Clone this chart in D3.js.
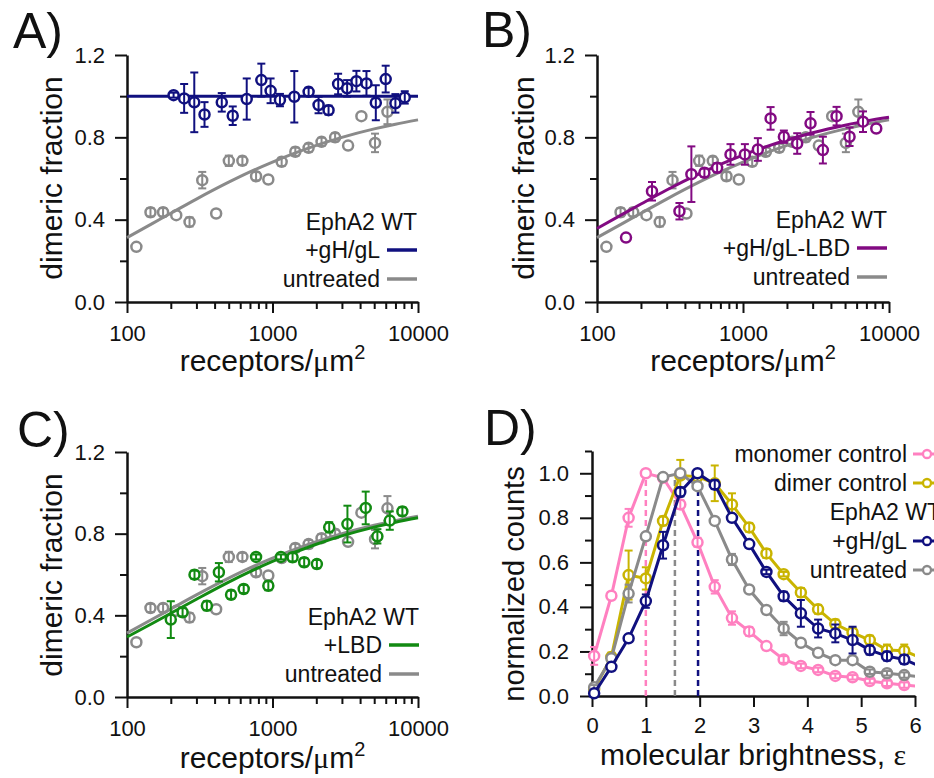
<!DOCTYPE html>
<html>
<head>
<meta charset="utf-8">
<script src="https://cdn.jsdelivr.net/npm/d3@7.9.0/dist/d3.min.js"></script>
<style>
  body { margin: 0; background: #fff; }
  text { font-family: "Liberation Sans", Arial, sans-serif; fill: #111; }
</style>
</head>
<body>
<svg id="fig" width="934" height="778"></svg>
<script>
// ---- panels A-C: dimeric fraction vs receptor density ----
const untreatedX = [116, 145, 177, 218, 269, 329, 410, 501, 621, 771, 936, 1156, 1435, 1771, 2173, 2693, 3308, 4083, 5066, 6166];
const untreatedY = [0.268, 0.436, 0.436, 0.422, 0.389, 0.592, 0.43, 0.686, 0.686, 0.611, 0.595, 0.681, 0.73, 0.749, 0.778, 0.80, 0.76, 0.903, 0.773, 0.924];
const untreatedErr = [0, 0.02, 0.02, 0, 0.022, 0.04, 0, 0.025, 0.02, 0.02, 0, 0.02, 0.02, 0.02, 0.02, 0.02, 0, 0, 0.045, 0.06];

const gHgLX = [209, 247, 290, 341, 448, 533, 665, 838, 970, 1125, 1412, 1771, 2073, 2428, 2825, 3258, 3774, 4424, 5129, 5997, 6994, 8110];
const gHgLY = [1.005, 0.989, 0.97, 0.911, 0.97, 0.905, 0.986, 1.078, 1.026, 0.981, 0.997, 1.021, 0.957, 0.932, 1.059, 1.038, 1.073, 1.062, 0.968, 1.083, 0.965, 0.994];
const gHgLErr = [0.012, 0.07, 0.145, 0.06, 0.045, 0.045, 0.1, 0.08, 0.06, 0.03, 0.125, 0.02, 0.04, 0.022, 0.05, 0.04, 0.05, 0.06, 0.085, 0.065, 0.045, 0.03];

const lbdGHgLX = [158, 238, 367, 443, 544, 665, 821, 1030, 1264, 1545, 1905, 2351, 2901, 3525, 4374, 5370, 6637, 8180];
const lbdGHgLY = [0.313, 0.538, 0.441, 0.621, 0.628, 0.652, 0.717, 0.717, 0.741, 0.892, 0.803, 0.77, 0.868, 0.738, 0.903, 0.803, 0.876, 0.843];
const lbdGHgLErr = [0, 0.045, 0.04, 0.135, 0.02, 0.022, 0.05, 0.05, 0.055, 0.055, 0.03, 0.05, 0.055, 0.065, 0.045, 0.045, 0.05, 0];

const lbdX = [200, 241, 291, 354, 428, 519, 634, 771, 936, 1143, 1374, 1651, 2018, 2453, 3273, 4371, 5260, 6397, 7810];
const lbdY = [0.379, 0.415, 0.599, 0.447, 0.611, 0.501, 0.529, 0.686, 0.545, 0.686, 0.684, 0.66, 0.651, 0.831, 0.847, 0.926, 0.787, 0.864, 0.909];
const lbdErr = [0.09, 0.02, 0.02, 0.022, 0.045, 0.02, 0.02, 0.012, 0.022, 0.012, 0.02, 0.02, 0.02, 0.025, 0.09, 0.08, 0.035, 0.045, 0.02];

// fitted curves
const fitX = [100, 150, 200, 300, 500, 700, 1000, 2000, 3000, 5000, 7000, 10000];
const fitUntreated = [0.313, 0.382, 0.431, 0.50, 0.582, 0.632, 0.68, 0.761, 0.80, 0.841, 0.864, 0.885];
const fitGHgL = [1, 1, 1, 1, 1, 1, 1, 1, 1, 1, 1, 1];
const fitLbdGHgL = [0.357, 0.427, 0.476, 0.544, 0.622, 0.669, 0.714, 0.787, 0.822, 0.859, 0.88, 0.898];
const fitLbd = [0.294, 0.361, 0.41, 0.479, 0.563, 0.614, 0.664, 0.748, 0.789, 0.832, 0.856, 0.878];

const fracTicks = [0, 0.4, 0.8, 1.2];
const fracMinor = [0.2, 0.6, 1.0];
const densTicks = [100, 1000, 10000];
const densMinor = [200, 300, 400, 500, 600, 700, 800, 900, 2000, 3000, 4000, 5000, 6000, 7000, 8000, 9000];

// ---- panel D: brightness distributions ----
const brightness = [0.04, 0.36, 0.68, 1.0, 1.32, 1.64, 1.96, 2.28, 2.6, 2.92, 3.24, 3.56, 3.88, 4.2, 4.52, 4.84, 5.16, 5.48, 5.8, 6.12];
const monomerCounts = [0.18, 0.45, 0.80, 1.00, 0.98, 0.86, 0.69, 0.49, 0.35, 0.29, 0.224, 0.164, 0.135, 0.117, 0.09, 0.084, 0.067, 0.057, 0.049, 0.043];
const monomerErr = [0.04, 0, 0.04, 0, 0, 0.02, 0.02, 0.03, 0.03, 0.02, 0, 0.015, 0.01, 0.01, 0.01, 0.01, 0.01, 0.012, 0.012, 0];
const dimerCounts = [0.03, 0.175, 0.543, 0.528, 0.786, 0.99, 0.985, 0.955, 0.86, 0.757, 0.64, 0.547, 0.465, 0.389, 0.323, 0.285, 0.251, 0.206, 0.203, 0.17];
const dimerErr = [0, 0.02, 0.11, 0.05, 0.02, 0.07, 0.02, 0.08, 0.05, 0.02, 0.02, 0.01, 0.02, 0.02, 0.02, 0.02, 0.02, 0.025, 0.028, 0];
const gHgLCounts = [0.012, 0.131, 0.259, 0.426, 0.677, 0.916, 1.0, 0.949, 0.80, 0.682, 0.557, 0.448, 0.371, 0.303, 0.281, 0.251, 0.206, 0.179, 0.164, 0.13];
const gHgLCountsErr = [0, 0, 0, 0.03, 0.06, 0.02, 0, 0.02, 0, 0, 0.01, 0.02, 0.06, 0.04, 0.04, 0.06, 0.02, 0.02, 0.02, 0];
const untreatedCounts = [0.039, 0.169, 0.46, 0.717, 0.983, 1.0, 0.942, 0.786, 0.613, 0.478, 0.386, 0.303, 0.239, 0.194, 0.161, 0.161, 0.109, 0.102, 0.094, 0.085];
const untreatedCountsErr = [0.01, 0, 0.04, 0, 0, 0, 0, 0, 0.025, 0, 0, 0.03, 0, 0, 0, 0, 0.01, 0.01, 0.012, 0];
const peakX = [1.0, 1.54, 1.97];
const peakTop = [1.0, 0.97, 1.0];

const countTicks = [0, 0.2, 0.4, 0.6, 0.8, 1.0];
const countMinor = [0.1, 0.3, 0.5, 0.7, 0.9, 1.1];
const brightTicks = [0, 1, 2, 3, 4, 5, 6];

const C = {
  navy: "#10107f", gray: "#8a8a8a", purple: "#820a82", green: "#128a12",
  pink: "#ff80c0", yellow: "#c9b400"
};

const svg = d3.select("#fig");

function styleAxis(g, major) {
  g.select(".domain").attr("stroke", "#111").attr("stroke-width", 2.5);
  g.selectAll(".tick line").attr("stroke", "#111").attr("stroke-width", 2);
  g.selectAll(".tick text").attr("font-size", 22).attr("fill", "#111")
    .attr("font-family", '"Liberation Sans", Arial, sans-serif');
  if (!major) g.select(".domain").remove();
}

function errorBars(g, pts, x, y, color) {
  const cap = 4;
  pts.forEach(p => {
    if (!p.e) return;
    const x0 = x(p.x), y1 = y(p.y - p.e), y2 = y(p.y + p.e);
    g.append("line").attr("x1", x0).attr("x2", x0).attr("y1", y1).attr("y2", y2)
      .attr("stroke", color).attr("stroke-width", 2);
    [y1, y2].forEach(yy => g.append("line").attr("x1", x0 - cap).attr("x2", x0 + cap)
      .attr("y1", yy).attr("y2", yy).attr("stroke", color).attr("stroke-width", 2));
  });
}

function points(g, xs, ys, es, x, y, color, r) {
  const pts = xs.map((v, i) => ({ x: v, y: ys[i], e: es[i] }));
  g.append("g").selectAll("circle").data(pts).enter().append("circle")
    .attr("cx", d => x(d.x)).attr("cy", d => y(d.y)).attr("r", r)
    .attr("fill", "#fff").attr("stroke", color).attr("stroke-width", 2.5);
  errorBars(g.append("g"), pts, x, y, color);
}

function fracPanel(o) {
  const g = svg.append("g");
  const x = d3.scaleLog().domain([100, 10000]).range(o.xr);
  const y = d3.scaleLinear().domain([0, 1.2]).range(o.yr);

  g.append("g").attr("transform", `translate(0,${o.yr[0]})`)
    .call(d3.axisBottom(x).tickValues(densMinor).tickSize(7).tickFormat(""))
    .call(a => styleAxis(a, false));
  g.append("g").attr("transform", `translate(0,${o.yr[0]})`)
    .call(d3.axisBottom(x).tickValues(densTicks).tickSize(11).tickSizeOuter(0).tickPadding(12).tickFormat(d3.format("d")))
    .call(a => styleAxis(a, true));
  g.append("g").attr("transform", `translate(${o.xr[0]},0)`)
    .call(d3.axisLeft(y).tickValues(fracMinor).tickSize(7).tickFormat(""))
    .call(a => styleAxis(a, false));
  g.append("g").attr("transform", `translate(${o.xr[0]},0)`)
    .call(d3.axisLeft(y).tickValues(fracTicks).tickSize(12).tickSizeOuter(0).tickPadding(10).tickFormat(d3.format(".1f")))
    .call(a => styleAxis(a, true));

  const line = d3.line().x((d, i) => x(fitX[i])).y(d => y(d)).curve(d3.curveMonotoneX);

  points(g, untreatedX, untreatedY, untreatedErr, x, y, C.gray, 5);
  g.append("path").attr("d", line(fitUntreated)).attr("fill", "none").attr("stroke", C.gray).attr("stroke-width", 3);
  g.append("path").attr("d", line(o.fit)).attr("fill", "none").attr("stroke", o.color).attr("stroke-width", 3);
  points(g, o.xs, o.ys, o.es, x, y, o.color, 5);

  // labels
  svg.append("text").attr("x", o.letter[0]).attr("y", o.letter[1]).attr("font-size", 50).text(o.name);
  svg.append("text").attr("transform", `translate(${o.ytitle[0]},${o.ytitle[1]}) rotate(-90)`)
    .attr("text-anchor", "middle").attr("font-size", 30).text("dimeric fraction");
  const xt = svg.append("text").attr("x", (o.xr[0] + o.xr[1]) / 2).attr("y", o.xtitleY)
    .attr("text-anchor", "middle").attr("font-size", 30);
  xt.append("tspan").text("receptors/");
  xt.append("tspan").attr("font-family", '"Liberation Serif", serif').text("μ");
  xt.append("tspan").text("m");
  xt.append("tspan").attr("font-size", 20).attr("dy", -12).text("2");

  // legend
  const L = o.legend;
  svg.append("text").attr("x", L.right).attr("y", L.y0).attr("text-anchor", "end").attr("font-size", 23).text("EphA2 WT");
  [[o.label, o.color], ["untreated", C.gray]].forEach(([t, c], i) => {
    const by = L.y0 + 29 * (i + 1) - 1;
    svg.append("text").attr("x", L.right - 37).attr("y", by).attr("text-anchor", "end").attr("font-size", 23).text(t);
    svg.append("line").attr("x1", L.right - 30).attr("x2", L.right).attr("y1", by - 8).attr("y2", by - 8)
      .attr("stroke", c).attr("stroke-width", 3.5);
  });
}

fracPanel({ name: "A)", letter: [13, 48], xr: [127, 418], yr: [302, 55], color: C.navy,
  xs: gHgLX, ys: gHgLY, es: gHgLErr, fit: fitGHgL, label: "+gH/gL",
  ytitle: [62, 178], xtitleY: 371, legend: { right: 417, y0: 230 } });
fracPanel({ name: "B)", letter: [482, 47], xr: [597, 889], yr: [302, 55], color: C.purple,
  xs: lbdGHgLX, ys: lbdGHgLY, es: lbdGHgLErr, fit: fitLbdGHgL, label: "+gH/gL-LBD",
  ytitle: [534, 178], xtitleY: 371, legend: { right: 887, y0: 228 } });
fracPanel({ name: "C)", letter: [17, 447], xr: [127, 418], yr: [697, 452], color: C.green,
  xs: lbdX, ys: lbdY, es: lbdErr, fit: fitLbd, label: "+LBD",
  ytitle: [62, 575], xtitleY: 768, legend: { right: 419, y0: 625 } });

// ---- panel D ----
(function () {
  const g = svg.append("g");
  const x = d3.scaleLinear().domain([0, 6]).range([592, 915]);
  const y = d3.scaleLinear().domain([0, 1.1]).range([696, 451]);

  g.append("g").attr("transform", "translate(0,696)")
    .call(d3.axisBottom(x).tickValues(brightTicks).tickSize(11).tickSizeOuter(0).tickPadding(10).tickFormat(d3.format("d")))
    .call(a => styleAxis(a, true));
  g.append("g").attr("transform", "translate(592,0)")
    .call(d3.axisLeft(y).tickValues(countMinor).tickSize(7).tickFormat(""))
    .call(a => styleAxis(a, false));
  g.append("g").attr("transform", "translate(592,0)")
    .call(d3.axisLeft(y).tickValues(countTicks).tickSize(12).tickSizeOuter(0).tickPadding(11).tickFormat(d3.format(".1f")))
    .call(a => styleAxis(a, true));

  svg.append("clipPath").attr("id", "clipD").append("rect")
    .attr("x", x(0)).attr("y", 400).attr("width", x(6) - x(0)).attr("height", 310);

  [C.pink, C.gray, C.navy].forEach((c, i) => {
    g.append("line").attr("x1", x(peakX[i])).attr("x2", x(peakX[i]))
      .attr("y1", y(0)).attr("y2", y(peakTop[i]))
      .attr("stroke", c).attr("stroke-width", 2.5).attr("stroke-dasharray", "6,4");
  });

  const series = [
    [monomerCounts, monomerErr, C.pink],
    [dimerCounts, dimerErr, C.yellow],
    [untreatedCounts, untreatedCountsErr, C.gray],
    [gHgLCounts, gHgLCountsErr, C.navy]
  ];
  const line = d3.line().x((d, i) => x(brightness[i])).y(d => y(d));
  series.forEach(([vals, errs, c]) => {
    const sg = g.append("g");
    sg.append("path").attr("d", line(vals)).attr("clip-path", "url(#clipD)")
      .attr("fill", "none").attr("stroke", c).attr("stroke-width", 3);
    const n = brightness.length - 1; // last value lies past the axis end
    points(sg, brightness.slice(0, n), vals.slice(0, n), errs.slice(0, n), x, y, c, 5);
  });

  svg.append("text").attr("x", 484).attr("y", 445).attr("font-size", 50).text("D)");
  svg.append("text").attr("transform", "translate(524,584) rotate(-90)")
    .attr("text-anchor", "middle").attr("font-size", 29).text("normalized counts");
  const xt = svg.append("text").attr("x", 753).attr("y", 765).attr("text-anchor", "middle").attr("font-size", 30);
  xt.append("tspan").text("molecular brightness, ");
  xt.append("tspan").attr("font-family", '"Liberation Serif", serif').text("ε");

  const legendLabels = ["monomer control", "dimer control", "EphA2 WT", "+gH/gL", "untreated"];
  const legendColors = [C.pink, C.yellow, null, C.navy, C.gray];
  legendLabels.forEach((t, i) => {
    const by = 462 + 29 * i;
    const c = legendColors[i];
    svg.append("text").attr("x", c ? 907 : 941).attr("y", by).attr("text-anchor", "end")
      .attr("font-size", 23).text(t);
    if (c) {
      svg.append("line").attr("x1", 913).attr("x2", 941).attr("y1", by - 8).attr("y2", by - 8)
        .attr("stroke", c).attr("stroke-width", 3);
      svg.append("circle").attr("cx", 927).attr("cy", by - 8).attr("r", 4)
        .attr("fill", "#fff").attr("stroke", c).attr("stroke-width", 2.3);
    }
  });
})();
</script>
</body>
</html>
